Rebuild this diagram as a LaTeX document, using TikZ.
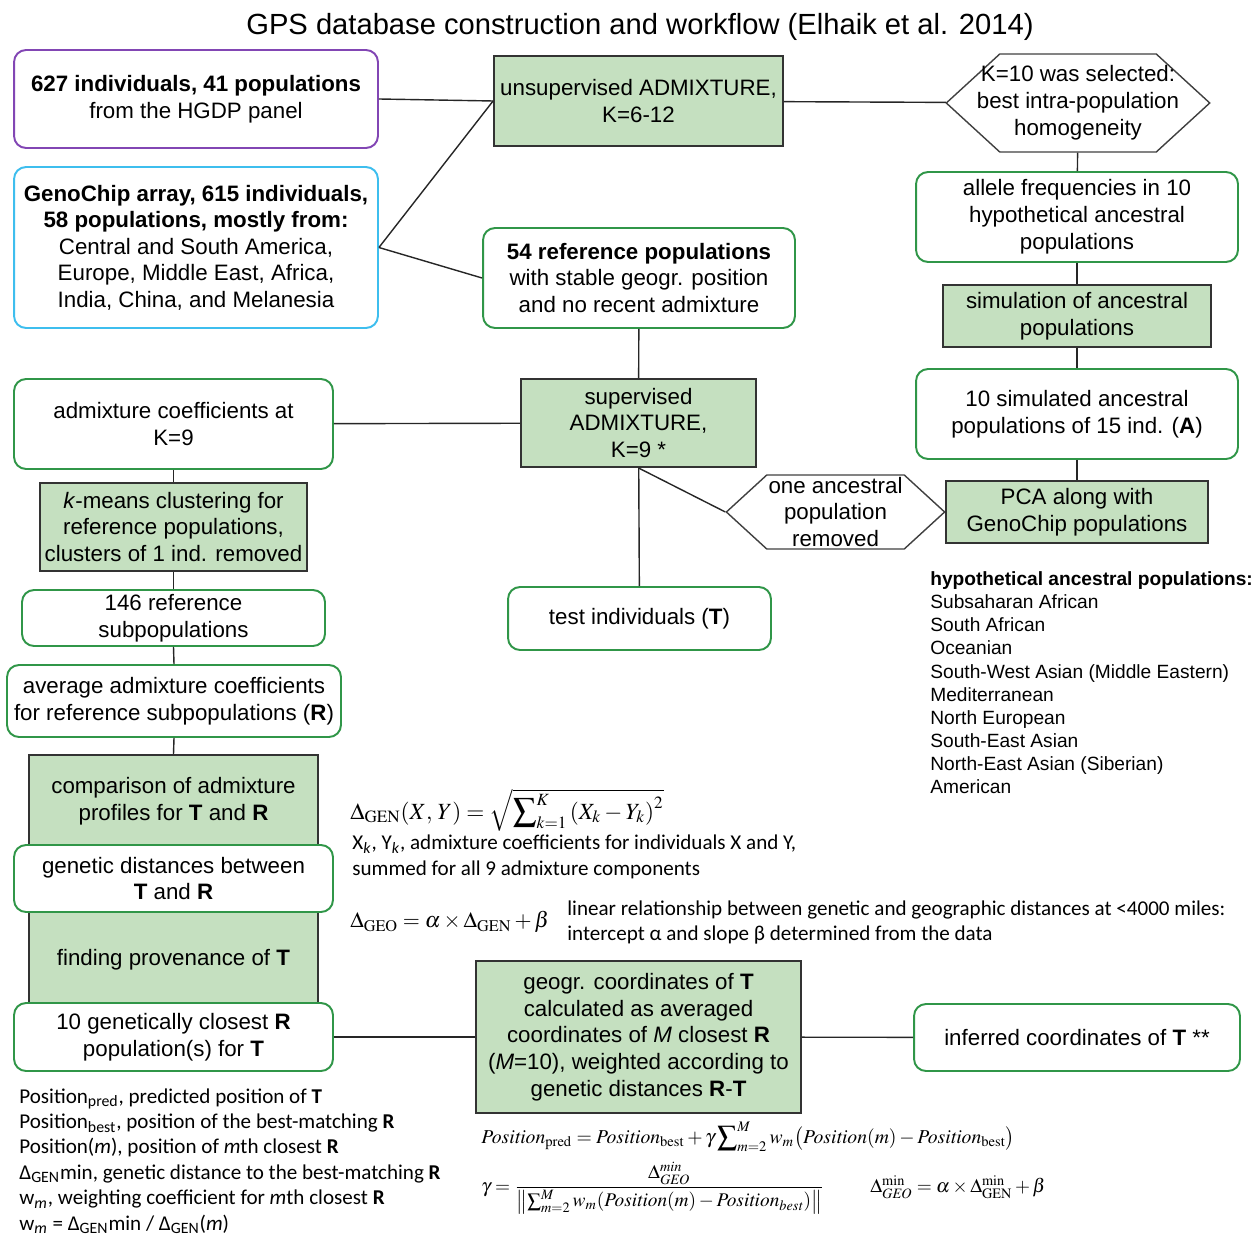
\documentclass[tikz,border=0pt]{standalone}
\usepackage{amsmath}
\usepackage{mathptmx}
\usepackage[no-math]{fontspec}
\setmainfont{Liberation Sans}
\newfontfamily\notefont{Carlito}
\usetikzlibrary{shapes.symbols}

\definecolor{stepfill}{RGB}{197,224,192}
\definecolor{boxgreen}{RGB}{48,150,72}
\definecolor{hgdppurple}{RGB}{130,70,180}
\definecolor{genocyan}{RGB}{62,190,238}

\begin{document}
\begin{tikzpicture}[x=0.02cm,y=-0.02cm,font=\fontsize{12.7}{15.3}\selectfont]
\tikzset{
  roundbox/.style={rectangle,rounded corners=0.24cm,draw=boxgreen,line width=1.1pt,fill=white,align=center,inner sep=2pt},
  stepbox/.style={rectangle,draw=black!80,line width=1.1pt,fill=stepfill,align=center,inner sep=2pt},
  choicehex/.style={signal,signal to=west and east,signal pointer angle=85,draw=black!75,line width=0.8pt,fill=white,align=center,inner xsep=1pt,inner ysep=0pt},
  flowline/.style={draw=black!85,line width=0.8pt},
  notetext/.style={font=\notefont\fontsize{12}{14.5}\selectfont,align=left,anchor=north west,inner sep=0pt},
  legendtext/.style={font=\fontsize{10.9}{13.2}\selectfont,align=left,anchor=north west,inner sep=0pt},
  formula/.style={anchor=west,inner sep=0pt,font=\fontsize{12.5}{15}\selectfont}
}
\useasboundingbox (0,0) rectangle (1256,1236);
\node[font=\fontsize{16.6}{20}\selectfont] (n_title) at (640,27) {GPS database construction and workflow (Elhaik et al. 2014)};
% top row
\node[roundbox,draw=hgdppurple,minimum width=7.28cm,minimum height=1.96cm] (n_hgdp) at (196,99)
  {\textbf{627 individuals, 41 populations}\\from the HGDP panel};
\node[roundbox,draw=genocyan,minimum width=7.28cm,minimum height=3.22cm,font=\fontsize{12.7}{15.1}\selectfont] (n_geno) at (196,247.5)
  {\textbf{GenoChip array, 615 individuals,}\\\textbf{58 populations, mostly from:}\\Central and South America,\\Europe, Middle East, Africa,\\India, China, and Melanesia};
\node[stepbox,minimum width=5.78cm,minimum height=1.8cm] (n_unsup) at (638.5,101) {unsupervised ADMIXTURE,\\K=6-12};
\node[choicehex,inner xsep=-13pt,minimum width=5.2cm,minimum height=1.96cm] (n_ksel) at (1078,103) {K=10 was selected:\\best intra-population\\homogeneity};
% right column
\node[roundbox,minimum width=6.44cm,minimum height=1.8cm] (n_allele) at (1077,217) {allele frequencies in 10\\hypothetical ancestral\\populations};
\node[stepbox,minimum width=5.36cm,minimum height=1.24cm] (n_sim) at (1077,316) {simulation of ancestral\\populations};
\node[roundbox,minimum width=6.44cm,minimum height=1.8cm] (n_simpop) at (1077,414) {10 simulated ancestral\\populations of 15 ind. (\textbf{A})};
\node[stepbox,minimum width=5.24cm,minimum height=1.24cm] (n_pca) at (1077,512) {PCA along with\\GenoChip populations};
\node[choicehex,minimum width=4.3cm,minimum height=1.48cm] (n_removed) at (835.5,512) {one ancestral\\population\\removed};
% middle column
\node[roundbox,minimum width=6.24cm,minimum height=2.0cm] (n_ref54) at (639,278) {\textbf{54 reference populations}\\with stable geogr. position\\and no recent admixture};
\node[stepbox,minimum width=4.7cm,minimum height=1.76cm] (n_sup) at (638.5,423) {supervised\\ADMIXTURE,\\K=9 *};
\node[roundbox,minimum width=5.26cm,minimum height=1.26cm] (n_test) at (639.5,618.5) {test individuals (\textbf{T})};
% left column
\node[roundbox,minimum width=6.38cm,minimum height=1.8cm] (n_coef) at (173.5,424) {admixture coefficients at\\K=9};
\node[stepbox,minimum width=5.34cm,minimum height=1.76cm] (n_kmeans) at (173.5,527) {\textit{k}-means clustering for\\reference populations,\\clusters of 1 ind. removed};
\node[roundbox,minimum width=6.06cm,minimum height=1.12cm] (n_sub146) at (173.5,618) {146 reference\\subpopulations};
\node[roundbox,minimum width=6.68cm,minimum height=1.44cm] (n_avg) at (174,701) {average admixture coefficients\\for reference subpopulations (\textbf{R})};
\node[stepbox,minimum width=5.78cm,minimum height=4.96cm] (n_compare) at (173.5,879) {};
\node[align=center] (n_comptext) at (173.5,801) {comparison of admixture\\profiles for \textbf{T} and \textbf{R}};
\node (n_prov) at (173.5,960) {finding provenance of \textbf{T}};
\node[roundbox,minimum width=6.38cm,minimum height=1.34cm] (n_gendist) at (173.5,878.5) {genetic distances between\\\textbf{T} and \textbf{R}};
\node[roundbox,minimum width=6.38cm,minimum height=1.36cm] (n_closest) at (173.5,1037) {10 genetically closest \textbf{R}\\population(s) for \textbf{T}};
% bottom row
\node[stepbox,minimum width=6.5cm,minimum height=3.04cm,font=\fontsize{12.7}{15.2}\selectfont] (n_geogr) at (638.5,1037) {geogr. coordinates of \textbf{T}\\calculated as averaged\\coordinates of \textit{M} closest \textbf{R}\\(\textit{M}=10), weighted according to\\genetic distances \textbf{R}-\textbf{T}};
\node[roundbox,minimum width=6.52cm,minimum height=1.34cm] (n_inferred) at (1077,1037.5) {inferred coordinates of \textbf{T} **};

\draw[flowline] (n_hgdp.east) -- (n_unsup.west);
\draw[flowline] (n_geno.east) -- (n_unsup.west);
\draw[flowline] (n_geno.east) -- (n_ref54.west);
\draw[flowline] (n_unsup) -- (n_ksel);
\draw[flowline] (n_ksel) -- (n_allele);
\draw[flowline] (n_allele) -- (n_sim);
\draw[flowline] (n_sim) -- (n_simpop);
\draw[flowline] (n_simpop) -- (n_pca);
\draw[flowline] (n_ref54) -- (n_sup);
\draw[flowline] (n_sup) -- (n_coef);
\draw[flowline] (n_sup) -- (n_test);
\draw[flowline] (n_sup.south) -- (n_removed.west);
\draw[flowline] (n_removed) -- (n_pca);
\draw[flowline] (n_coef.south) -- (n_kmeans.north);
\draw[flowline] (n_kmeans.south) -- (n_sub146.north);
\draw[flowline] (n_sub146.south) -- (n_avg.north);
\draw[flowline] (n_avg.south) -- (n_compare.north);
\draw[flowline] (n_closest) -- (n_geogr);
\draw[flowline] (n_geogr) -- (n_inferred);

% notes and formulas
\node[legendtext] (n_legend) at (930,571) {\textbf{hypothetical ancestral populations:}\\Subsaharan African\\South African\\Oceanian\\South-West Asian (Middle Eastern)\\Mediterranean\\North European\\South-East Asian\\North-East Asian (Siberian)\\American};
\node[formula,font=\fontsize{13.2}{15}\selectfont] (n_gendef) at (350,810) {$\Delta_{\mathrm{GEN}}(X,\,Y)=\sqrt{\displaystyle\sum\nolimits_{k=1}^{K}\left(X_k-Y_k\right)^2}$};
\node[notetext] (n_gennote) at (352,835) {X\textsubscript{\textit{k}}, Y\textsubscript{\textit{k}}, admixture coefficients for individuals X and Y,\\summed for all 9 admixture components};
\node[formula] (n_geodef) at (350,922) {$\Delta_{\mathrm{GEO}}=\alpha\times\Delta_{\mathrm{GEN}}+\beta$};
\node[notetext] (n_geonote) at (567,900) {linear relationship between genetic and geographic distances at <4000 miles:\\intercept α and slope β determined from the data};
\node[formula,font=\fontsize{11.2}{13}\selectfont] (n_posdef) at (481,1137) {$\mathit{Position}_{\mathrm{pred}}=\mathit{Position}_{\mathrm{best}}+\gamma\displaystyle\sum\nolimits_{m=2}^{M}w_m\bigl(\mathit{Position}(m)-\mathit{Position}_{\mathrm{best}}\bigr)$};
\node[formula,font=\fontsize{11}{13}\selectfont] (n_gammadef) at (481,1188) {$\gamma=\dfrac{\Delta_{\mathit{GEO}}^{\mathit{min}}}{\bigl\|\sum_{m=2}^{M}w_m(\mathit{Position}(m)-\mathit{Position}_{\mathit{best}})\bigr\|}$};
\node[formula,font=\fontsize{11}{13}\selectfont] (n_mindef) at (870,1187) {$\Delta_{\mathit{GEO}}^{\mathrm{min}}=\alpha\times\Delta_{\mathrm{GEN}}^{\mathrm{min}}+\beta$};
\node[notetext] (n_poslegend) at (19,1088) {Position\textsubscript{pred}, predicted position of \textbf{T}\\
Position\textsubscript{best}, position of the best-matching \textbf{R}\\
Position(\textit{m}), position of \textit{m}th closest \textbf{R}\\
Δ\textsubscript{GEN}min, genetic distance to the best-matching \textbf{R}\\
w\textsubscript{\textit{m}}, weighting coefficient for \textit{m}th closest \textbf{R}\\
w\textsubscript{\textit{m}} = Δ\textsubscript{GEN}min / Δ\textsubscript{GEN}(\textit{m})};
\end{tikzpicture}
\end{document}
